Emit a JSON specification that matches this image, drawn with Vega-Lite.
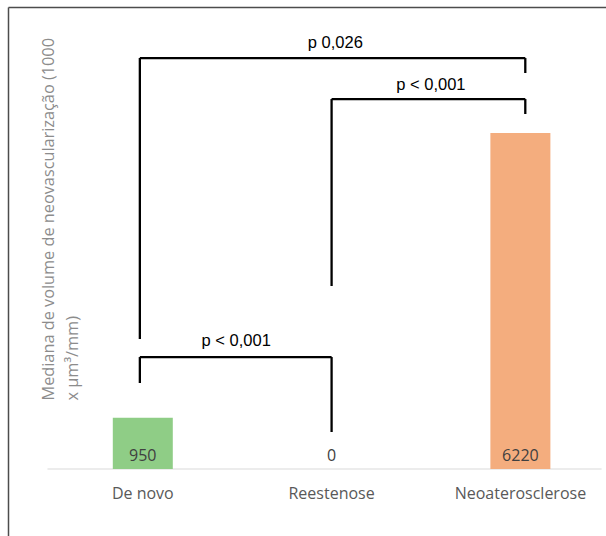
{
  "$schema": "https://vega.github.io/schema/vega-lite/v6.json",
  "autosize": {"type": "none"},
  "width": 598,
  "height": 529,
  "padding": {"left": 8, "top": 7, "right": 0, "bottom": 0},
  "background": "white",
  "config": {"view": {"stroke": null}},
  "datasets": {
    "bars": [
      {"x": 0, "y": 950, "cat": "De novo"},
      {"x": 1, "y": 0, "cat": "Reestenose"},
      {"x": 2, "y": 6220, "cat": "Neoaterosclerose"}
    ],
    "base": [{"x": -0.505, "x2": 2.43, "y": 0}],
    "segs": [
      {"x": -0.0156, "x2": 2.026, "y": 7608, "y2": 7608},
      {"x": -0.0156, "x2": -0.0156, "y": 7608, "y2": 2407},
      {"x": 2.026, "x2": 2.026, "y": 7608, "y2": 7331},
      {"x": 1, "x2": 2.026, "y": 6849, "y2": 6849},
      {"x": 1, "x2": 1, "y": 6849, "y2": 3388},
      {"x": 2.026, "x2": 2.026, "y": 6849, "y2": 6572},
      {"x": -0.0156, "x2": 1, "y": 2073, "y2": 2073},
      {"x": -0.0156, "x2": -0.0156, "y": 2073, "y2": 1592},
      {"x": 1, "x2": 1, "y": 2073, "y2": 685}
    ],
    "pvals": [
      {"x": 1.02, "y": 7886, "label": "p 0,026"},
      {"x": 1.526, "y": 7109, "label": "p < 0,001"},
      {"x": 0.495, "y": 2370, "label": "p < 0,001"}
    ]
  },
  "encoding": {
    "x": {
      "field": "x", "type": "quantitative",
      "scale": {"domain": [-0.6875, 2.427], "nice": false, "zero": false},
      "axis": {"orient": "top", "labels": false, "ticks": false, "grid": false, "title": null, "domain": true, "domainColor": "#4d4d4d", "domainWidth": 1.5}
    },
    "y": {
      "field": "y", "type": "quantitative",
      "scale": {"domain": [-1240, 8553], "nice": false, "zero": false},
      "axis": {
        "orient": "left", "labels": false, "ticks": false, "grid": false, "domain": true, "domainColor": "#4d4d4d", "domainWidth": 1.5,
        "title": ["Mediana de volume de neovascularização (1000", "x µm³/mm)"],
        "titleFont": "Open Sans", "titleFontSize": 16.3, "titleFontWeight": "normal", "titleColor": "#8c8c8c",
        "titleAngle": 270, "titleAlign": "left", "titleBaseline": "alphabetic", "titleLineHeight": 24,
        "titleX": 45, "titleY": 393
      }
    }
  },
  "layer": [
    {
      "data": {"name": "base"},
      "mark": {"type": "rule", "color": "#d9d9d9", "strokeWidth": 1.2},
      "encoding": {"x2": {"field": "x2"}}
    },
    {
      "data": {"name": "bars"},
      "mark": {"type": "bar", "size": 60},
      "encoding": {
        "y2": {"datum": 0},
        "color": {"field": "cat", "type": "nominal", "legend": null,
          "scale": {"domain": ["De novo", "Reestenose", "Neoaterosclerose"], "range": ["#8fcd86", "#ffffff", "#f4ad7e"]}}
      }
    },
    {
      "data": {"name": "bars"},
      "mark": {"type": "text", "font": "Open Sans", "fontSize": 16, "color": "#404040", "baseline": "alphabetic", "dy": -8},
      "encoding": {"y": {"datum": 0}, "text": {"field": "y", "type": "quantitative", "format": "d"}}
    },
    {
      "data": {"name": "bars"},
      "mark": {"type": "text", "font": "Open Sans", "fontSize": 16, "color": "#595959", "baseline": "middle", "dy": 25},
      "encoding": {"y": {"datum": 0}, "text": {"field": "cat"}}
    },
    {
      "data": {"name": "segs"},
      "mark": {"type": "rule", "color": "#000000", "strokeWidth": 2.3},
      "encoding": {"x2": {"field": "x2"}, "y2": {"field": "y2"}}
    },
    {
      "data": {"name": "pvals"},
      "mark": {"type": "text", "font": "Liberation Sans", "fontSize": 16.5, "color": "#000000", "baseline": "middle"},
      "encoding": {"text": {"field": "label"}}
    }
  ]
}
